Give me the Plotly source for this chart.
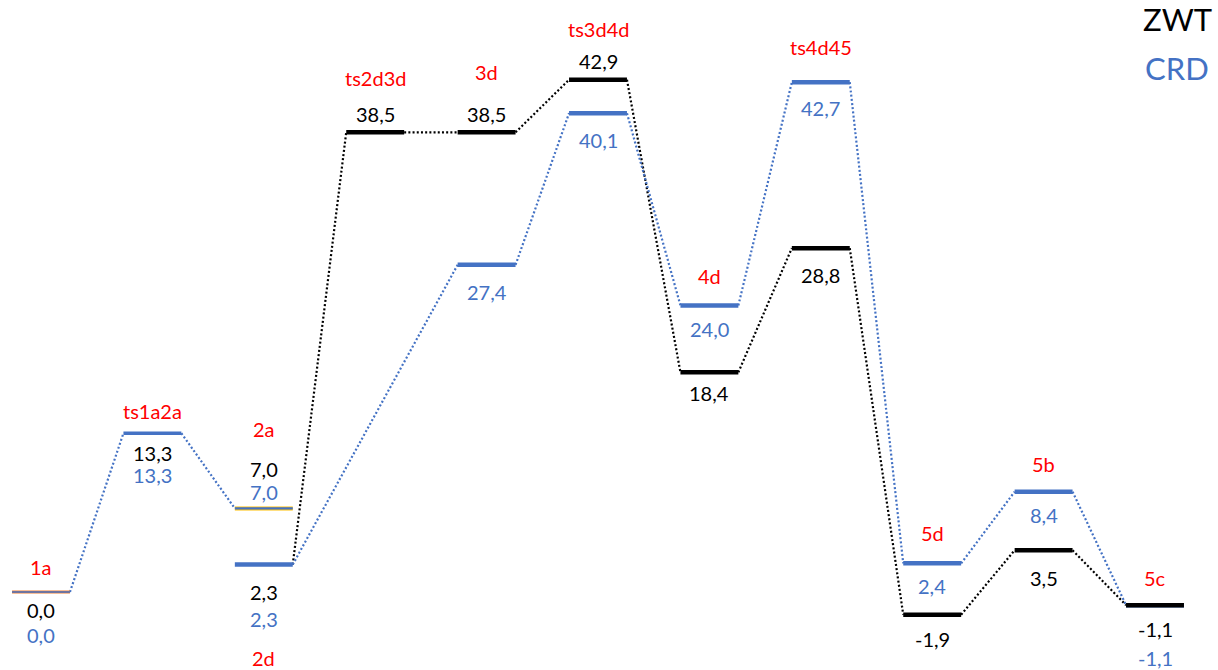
import plotly.graph_objects as go

# ---------------- data ----------------
stages = ["1a", "ts1a2a", "2a", "2d", "ts2d3d", "3d", "ts3d4d", "4d", "ts4d45", "5d", "5b", "5c"]
stage_column = [0, 1, 2, 2, 3, 4, 5, 6, 7, 8, 9, 10]          # categorical slot of each stage
zwt = [0.0, 13.3, 7.0, 2.3, 38.5, 38.5, 42.9, 18.4, 28.8, -1.9, 3.5, -1.1]
crd = [0.0, 13.3, 7.0, 2.3, None, 27.4, 40.1, 24.0, 42.7, 2.4, 8.4, -1.1]
zwt_paths = [["1a", "ts1a2a", "2a"],
             ["2d", "ts2d3d", "3d", "ts3d4d", "4d", "ts4d45", "5d", "5b", "5c"]]
crd_paths = [["1a", "ts1a2a", "2a"],
             ["2d", "3d", "ts3d4d", "4d", "ts4d45", "5d", "5b", "5c"]]
series_names = ["ZWT", "CRD"]

# ---------------- style ----------------
BLUE = "#4472C4"
BLACK = "#000000"
RED = "#FF0000"
ORANGE = "#ED7D31"
GOLD = "#FFC000"
FONT = "Lato"
HW = 0.26          # half width of a level bar (column units)

# label pixel offsets (positive = downwards) relative to the bar of that series
# (name offset relative to the highest bar of the stage unless given as tuple (series, dy))
label_offsets = {
    "1a":     {"name": -25, "zwt": 18, "crd": 43},
    "ts1a2a": {"name": -22, "zwt": 20, "crd": 42},
    "2a":     {"name": -79, "zwt": -39, "crd": -16},
    "2d":     {"name": ("crd", 93), "zwt": 27, "crd": 54},
    "ts2d3d": {"name": -54, "zwt": -18},
    "3d":     {"name": -60, "zwt": -18, "crd": 27},
    "ts3d4d": {"name": -51, "zwt": -19, "crd": 27},
    "4d":     {"name": ("crd", -29), "zwt": 21, "crd": 24},
    "ts4d45": {"name": -35, "zwt": 27, "crd": 26},
    "5d":     {"name": ("crd", -30), "zwt": 24, "crd": 23},
    "5b":     {"name": ("crd", -28), "zwt": 28, "crd": 23},
    "5c":     {"name": -27, "zwt": 24, "crd": 53},
}

col = dict(zip(stages, stage_column))
zv = dict(zip(stages, zwt))
cv = dict(zip(stages, crd))

fig = go.Figure()


def connector(a, b, vals, color):
    fig.add_trace(go.Scatter(
        x=[col[a] + HW, col[b] - HW], y=[vals[a], vals[b]], mode="lines",
        line=dict(color=color, width=2.2, dash="2px,2.2px"), hoverinfo="skip", showlegend=False))


def bar(s, v, color, width):
    fig.add_trace(go.Scatter(
        x=[col[s] - HW, col[s] + HW], y=[v, v], mode="lines",
        line=dict(color=color, width=width), hoverinfo="skip", showlegend=False))


crd_segments = set()
for path in crd_paths:
    for a, b in zip(path[:-1], path[1:]):
        crd_segments.add((a, b))

# ZWT connectors (skip those identical to CRD connectors)
for path in zwt_paths:
    for a, b in zip(path[:-1], path[1:]):
        if (a, b) in crd_segments and zv[a] == cv[a] and zv[b] == cv[b]:
            continue
        connector(a, b, zv, BLACK)

# CRD connectors
for path in crd_paths:
    for a, b in zip(path[:-1], path[1:]):
        connector(a, b, cv, BLUE)

shared = {"1a", "ts1a2a", "2a", "2d"}

# CRD bars
for s in stages:
    v = cv[s]
    if v is None:
        continue
    if s == "1a":
        bar(s, v, ORANGE, 3)
        bar(s, v, BLUE, 1.5)
    elif s == "2a":
        bar(s, v, GOLD, 4)
        bar(s, v, BLUE, 2.2)
    elif s == "ts1a2a":
        bar(s, v, BLUE, 3.5)
    else:
        bar(s, v, BLUE, 4.5)

# ZWT bars
for s in stages:
    if s in shared:
        continue
    bar(s, zv[s], BLACK, 4.5)


def fmt(v):
    return f"{v:.1f}".replace(".", ",")


def label(x, y, text, color, dy):
    fig.add_annotation(x=x, y=y, text=text, showarrow=False, xanchor="center", yanchor="middle",
                       yshift=-dy, font=dict(family=FONT, size=20, color=color))


for s in stages:
    off = label_offsets[s]
    x = col[s]
    if "zwt" in off:
        label(x, zv[s], fmt(zv[s]), BLACK, off["zwt"])
    if "crd" in off and cv[s] is not None:
        label(x, cv[s], fmt(cv[s]), BLUE, off["crd"])
    nm = off["name"]
    if isinstance(nm, tuple):
        ref = cv[s] if nm[0] == "crd" else zv[s]
        label(x, ref, s, RED, nm[1])
    else:
        top = max(v for v in (zv[s], cv[s]) if v is not None)
        label(x, top, s, RED, nm)

# series key (paper coordinates)
fig.add_annotation(x=1177 / 1218, y=1 - 19 / 670, xref="paper", yref="paper", text=series_names[0],
                   showarrow=False, xanchor="center", yanchor="middle",
                   font=dict(family=FONT, size=31, color=BLACK))
fig.add_annotation(x=1177 / 1218, y=1 - 68 / 670, xref="paper", yref="paper", text=series_names[1],
                   showarrow=False, xanchor="center", yanchor="middle",
                   font=dict(family=FONT, size=31, color=BLUE))

PX_PER_COL = 111.4
PX_PER_UNIT = 11.94
fig.update_layout(
    width=1218, height=670, margin=dict(l=0, r=0, t=0, b=0),
    paper_bgcolor="white", plot_bgcolor="white",
    xaxis=dict(range=[-41 / PX_PER_COL, (1218 - 41) / PX_PER_COL], visible=False, fixedrange=True),
    yaxis=dict(range=[-78 / PX_PER_UNIT, 592 / PX_PER_UNIT], visible=False, fixedrange=True),
    showlegend=False,
)

fig.write_html("out.html")
